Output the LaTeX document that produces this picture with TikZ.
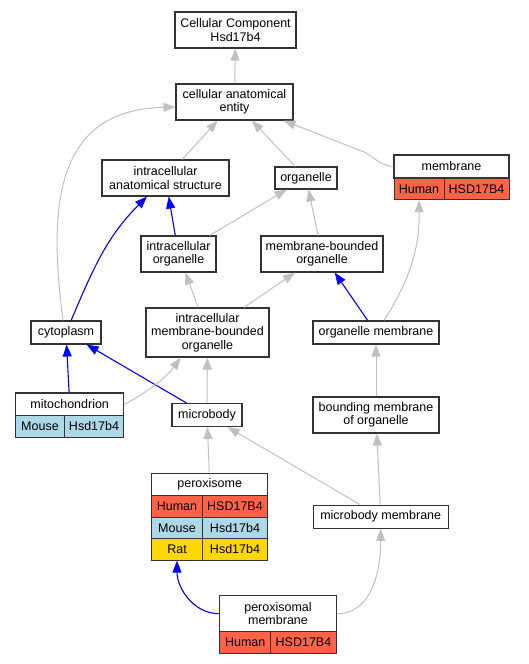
\documentclass[tikz,border=0pt]{standalone}
\usepackage{fontspec}
\setmainfont{Liberation Sans}
\usetikzlibrary{arrows.meta}
\definecolor{human}{HTML}{FF6347}
\definecolor{mouse}{HTML}{ADD8E6}
\definecolor{rat}{HTML}{FFD700}
\definecolor{edgegray}{HTML}{C0C0C0}

\begin{document}
\begin{tikzpicture}[x=1pt,y=-1pt,
    font=\fontsize{12.5}{13.5}\selectfont,
    term/.style={draw=black!80,line width=1.1pt,fill=white,align=center,inner sep=0pt},
    cell/.style={draw=black!80,line width=0.8pt,inner sep=0pt,minimum height=21.7pt},
    isa/.style={draw=edgegray,line width=1pt,-{Triangle[length=12pt,width=9pt]}},
    partof/.style={draw=blue,line width=1.1pt,-{Triangle[length=12pt,width=9pt]}}]
        \useasboundingbox (0,0) rectangle (529,664);

        \node[term,minimum width=121pt,minimum height=36pt] (root) at (235.5,30) {Cellular Component\\Hsd17b4};
        \node[term,minimum width=117pt,minimum height=36pt] (cae) at (234.5,102) {cellular anatomical\\entity};
        \node[term,minimum width=127pt,minimum height=36pt] (ias) at (165.5,178) {intracellular\\anatomical structure};
        \node[term,minimum width=62pt,minimum height=22pt] (org) at (306,178) {organelle};
        \node[term,minimum width=115pt,minimum height=23pt] (memb) at (451.5,166.5) {membrane};
        \node[cell,fill=human,minimum width=50pt] (membL) at (419,189) {Human};
        \node[cell,fill=human,minimum width=65pt] (membR) at (476.5,189) {HSD17B4};
        \node[term,minimum width=75pt,minimum height=36pt] (io) at (178.5,254) {intracellular\\organelle};
        \node[term,minimum width=122pt,minimum height=36pt] (mbo) at (322,254) {membrane-bounded\\organelle};
        \node[term,minimum width=70pt,minimum height=23pt] (cyto) at (66,332.5) {cytoplasm};
        \node[term,minimum width=123pt,minimum height=49pt] (icmbo) at (207.5,332.5) {intracellular\\membrane-bounded\\organelle};
        \node[term,minimum width=126pt,minimum height=23pt] (om) at (376,332.5) {organelle membrane};
        \node[term,minimum width=108pt,minimum height=22.7pt] (mito) at (69.7,404.3) {mitochondrion};
        \node[cell,fill=mouse,minimum width=48.6pt] (mitoL) at (40,426.3) {Mouse};
        \node[cell,fill=mouse,minimum width=59.4pt] (mitoR) at (94,426.3) {Hsd17b4};
        \node[term,minimum width=70pt,minimum height=23pt] (mb) at (207,415) {microbody};
        \node[term,minimum width=126pt,minimum height=36pt] (bmo) at (376,415) {bounding membrane\\of organelle};
        \node[term,minimum width=116pt,minimum height=22.3pt] (perox) at (209.7,484.2) {peroxisome};
        \node[cell,fill=human,minimum width=50.6pt] (peroxHL) at (177,506.2) {Human};
        \node[cell,fill=human,minimum width=65.4pt] (peroxHR) at (235,506.2) {HSD17B4};
        \node[cell,fill=mouse,minimum width=50.6pt] (peroxML) at (177,527.9) {Mouse};
        \node[cell,fill=mouse,minimum width=65.4pt] (peroxMR) at (235,527.9) {Hsd17b4};
        \node[cell,fill=rat,minimum width=50.6pt] (peroxRL) at (177,549.4) {Rat};
        \node[cell,fill=rat,minimum width=65.4pt] (peroxRR) at (235,549.4) {Hsd17b4};
        \node[term,minimum width=135.3pt,minimum height=23.3pt] (mm) at (380.7,516.7) {microbody membrane};
        \node[term,minimum width=116.6pt,minimum height=36pt] (pm) at (278,613.7) {peroxisomal\\membrane};
        \node[cell,fill=human,minimum width=51pt] (pmL) at (245.2,642.5) {Human};
        \node[cell,fill=human,minimum width=65.6pt] (pmR) at (303.5,642.5) {HSD17B4};

        \draw[isa] (cae) -- (root);
        \draw[isa] (ias) -- (cae);
        \draw[isa] (org) -- (cae);
        \draw[isa] (memb.west) .. controls (381,166) and (374,157) .. (364,152) -- ([xshift=-10pt]cae.south east);
        \draw[isa] ([xshift=-3pt]cyto.north) .. controls (48,205) and (55,110) .. ([yshift=-5pt]cae.west);
        \draw[partof] (cyto) to[out=67,in=-135] (ias);
        \draw[partof] (io) -- (ias);
        \draw[isa] (io) -- (org);
        \draw[isa] (mbo) -- (org);
        \draw[isa] ([xshift=8pt]om.north) .. controls (400,295) and (420,260) .. (membL.south);
        \draw[isa] (icmbo) -- (io);
        \draw[isa] (icmbo) -- (mbo);
        \draw[partof] (om) -- (mbo);
        \draw[partof] (mito) -- (cyto);
        \draw[partof] (mb) -- (cyto);
        \draw[isa] (mito.east) .. controls (136,399) and (165,380) .. ([xshift=-27pt]icmbo.south);
        \draw[isa] (mb) -- (icmbo);
        \draw[isa] (bmo) -- (om);
        \draw[isa] (perox) -- (mb);
        \draw[isa] (mm) -- (mb);
        \draw[isa] (mm) -- (bmo);
        \draw[partof] (pm.west) to[out=180,in=-90] (peroxRL.south);
        \draw[isa] (pm.east) to[out=0,in=-90] (mm.south);
    \end{tikzpicture}
\end{document}
